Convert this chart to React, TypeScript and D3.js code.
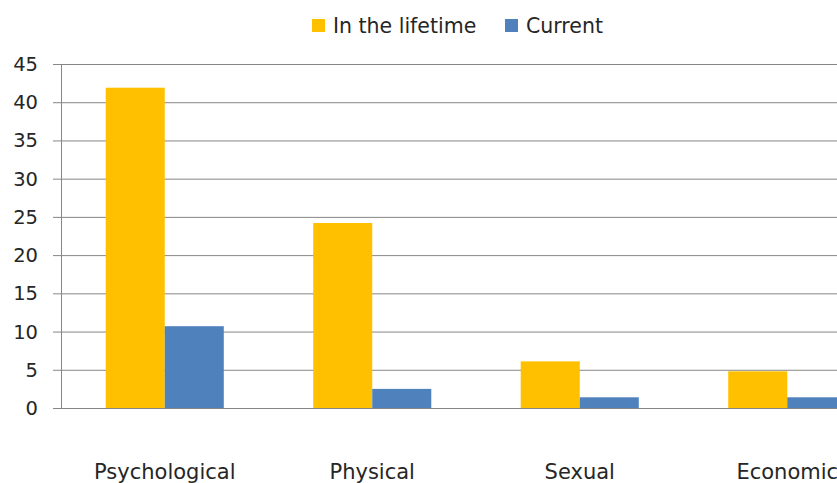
import React, { useEffect, useRef } from 'react';
import * as d3 from 'd3';

// chart values
const categories = ['Psychological', 'Physical', 'Sexual', 'Economic'];
const seriesNames = ['In the lifetime', 'Current'];
const lifetime = [41.9, 24.2, 6.1, 4.8];
const current = [10.7, 2.5, 1.4, 1.4];
const yTicks = [0, 5, 10, 15, 20, 25, 30, 35, 40, 45];
const colors = ['#FFC000', '#4F81BD'];

const width = 837;
const height = 483;
const font = "'DejaVu Sans', sans-serif";

export default function App() {
  const svgRef = useRef<SVGSVGElement>(null);

  useEffect(() => {
    if (!svgRef.current) return;
    const svg = d3.select(svgRef.current);
    svg.selectAll('*').remove();

    // plot area continues past the right edge (the reference is cropped)
    const left = 61;
    const right = 891;
    const top = 64;
    const bottom = 408;

    const x = d3.scaleBand<string>()
      .domain(categories)
      .range([left, right])
      .paddingInner(0.431)
      .paddingOuter(0.2155);

    const xs = d3.scaleBand<string>()
      .domain(seriesNames)
      .range([0, x.bandwidth()])
      .padding(0);

    const y = d3.scaleLinear().domain([0, 45]).range([bottom, top]);

    // gridlines + tick marks
    svg.append('g')
      .selectAll('line')
      .data(yTicks)
      .enter().append('line')
      .attr('x1', left - 8)
      .attr('x2', right)
      .attr('y1', d => y(d) + 0.5)
      .attr('y2', d => y(d) + 0.5)
      .attr('stroke', '#868686')
      .attr('stroke-width', 1);

    // y axis line
    svg.append('line')
      .attr('x1', left + 0.5).attr('x2', left + 0.5)
      .attr('y1', top).attr('y2', bottom + 0.5)
      .attr('stroke', '#868686');

    // y tick labels
    svg.append('g')
      .selectAll('text')
      .data(yTicks)
      .enter().append('text')
      .attr('x', 38)
      .attr('y', d => y(d) + 7)
      .attr('text-anchor', 'end')
      .style('font-family', font)
      .style('font-size', '19.5px')
      .style('fill', '#262626')
      .text(d => d);

    const values = [lifetime, current];

    // bars
    seriesNames.forEach((name, si) => {
      svg.append('g')
        .selectAll('rect')
        .data(categories)
        .enter().append('rect')
        .attr('x', c => (x(c) || 0) + (xs(name) || 0))
        .attr('width', xs.bandwidth())
        .attr('y', (_, i) => y(values[si][i]))
        .attr('height', (_, i) => bottom - y(values[si][i]))
        .attr('fill', colors[si]);
    });

    // category labels
    svg.append('g')
      .selectAll('text')
      .data(categories)
      .enter().append('text')
      .attr('x', c => (x(c) || 0) + x.bandwidth() / 2)
      .attr('y', 479)
      .attr('text-anchor', 'middle')
      .style('font-family', font)
      .style('font-size', '21px')
      .style('fill', '#262626')
      .text(c => c);

    // legend
    const legendX = [312, 505];
    seriesNames.forEach((name, i) => {
      svg.append('rect')
        .attr('x', legendX[i])
        .attr('y', 19)
        .attr('width', 13)
        .attr('height', 13)
        .attr('fill', colors[i]);
      svg.append('text')
        .attr('x', legendX[i] + 21)
        .attr('y', 33)
        .style('font-family', font)
        .style('font-size', '20.5px')
        .style('fill', '#262626')
        .text(name);
    });
  }, []);

  return (
    <svg
      ref={svgRef}
      width={width}
      height={height}
      style={{ position: 'absolute', left: 0, top: 0, background: '#fff' }}
    />
  );
}
